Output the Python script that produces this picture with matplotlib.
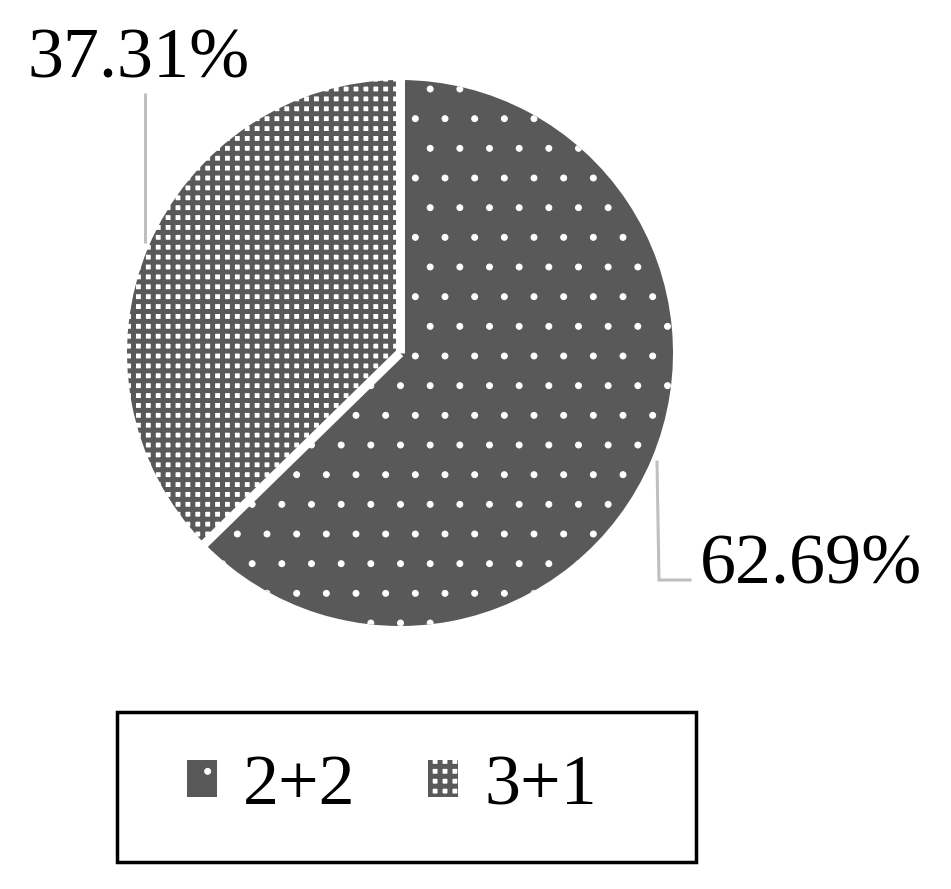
import numpy as np
import matplotlib
matplotlib.use("Agg")
import matplotlib.pyplot as plt
from matplotlib.patches import Rectangle

# ===== 数据 =====
categories = ["2+2", "3+1"]
shares = [62.69, 37.31]
share_labels = ["62.69%", "37.31%"]

# ===== 画布 (像素坐标) =====
W, H, DPI = 951, 889, 178
PT = 72 / DPI  # 1 px 对应的 pt

GRAY = "#595959"
LEADER = "#bfbfbf"

plt.rcParams["font.family"] = ["Liberation Serif", "DejaVu Serif"]
plt.rcParams["hatch.linewidth"] = 5.0 * PT

fig = plt.figure(figsize=(W / DPI, H / DPI), dpi=DPI)
ax = fig.add_axes([0, 0, 1, 1])


def fy(py):
    # 图片 y (向下) -> 数据 y (向上)
    return H - py


cx, cy, r = 400, fy(353), 273

wedges, _ = ax.pie(shares, startangle=90, counterclock=False,
                   center=(cx, cy), radius=r,
                   colors=[GRAY, "white"],
                   wedgeprops=dict(linewidth=0))
# 2+2：灰底白点；3+1：白底灰色网格
wedges[0].set_edgecolor("white")
wedges[0].set_linewidth(0)
wedges[0].set_hatch(".")
wedges[1].set_edgecolor(GRAY)
wedges[1].set_linewidth(0)
wedges[1].set_hatch("+++")
for w, hl in zip(wedges, [0.4, 5.0 * PT]):
    if hasattr(w, "set_hatch_linewidth"):
        w.set_hatch_linewidth(hl)

# 扇区之间的白色缝隙
bounds = 90 - 360 * np.concatenate([[0], np.cumsum(shares)]) / 100.0
for a in bounds[:-1]:
    t = np.deg2rad(a)
    ax.plot([cx, cx + (r + 3) * np.cos(t)], [cy, cy + (r + 3) * np.sin(t)],
            color="white", lw=9 * PT, solid_capstyle="butt")

# 数据标签与引线
FS = 72 * PT
ax.text(139, fy(78), share_labels[1], ha="center", va="baseline", fontsize=FS)
ax.plot([145, 145], [fy(93), fy(243)], color=LEADER, lw=3 * PT,
        solid_capstyle="butt")
ax.text(811, fy(583), share_labels[0], ha="center", va="baseline", fontsize=FS)
ax.plot([657, 659, 690], [fy(462), fy(580), fy(580)], color=LEADER,
        lw=3 * PT, solid_joinstyle="miter")

# 图例
ax.add_patch(Rectangle((117, fy(862)), 579, 150, fill=False,
                       edgecolor="black", lw=3.5 * PT))
leg = fig.legend(wedges, categories, loc="center",
                 bbox_to_anchor=(392 / W, fy(787) / H), ncol=2, frameon=False,
                 fontsize=FS, handlelength=30 / 72, handleheight=30 / 72,
                 handletextpad=26 / 72, columnspacing=72 / 72)
for h, hl in zip(leg.legend_handles, [0.4, 5.0 * PT]):
    if hasattr(h, "set_hatch_linewidth"):
        h.set_hatch_linewidth(hl)

ax.set_xlim(0, W)
ax.set_ylim(0, H)
ax.set_aspect("auto")
ax.axis("off")

fig.savefig("out.png", dpi=DPI)
